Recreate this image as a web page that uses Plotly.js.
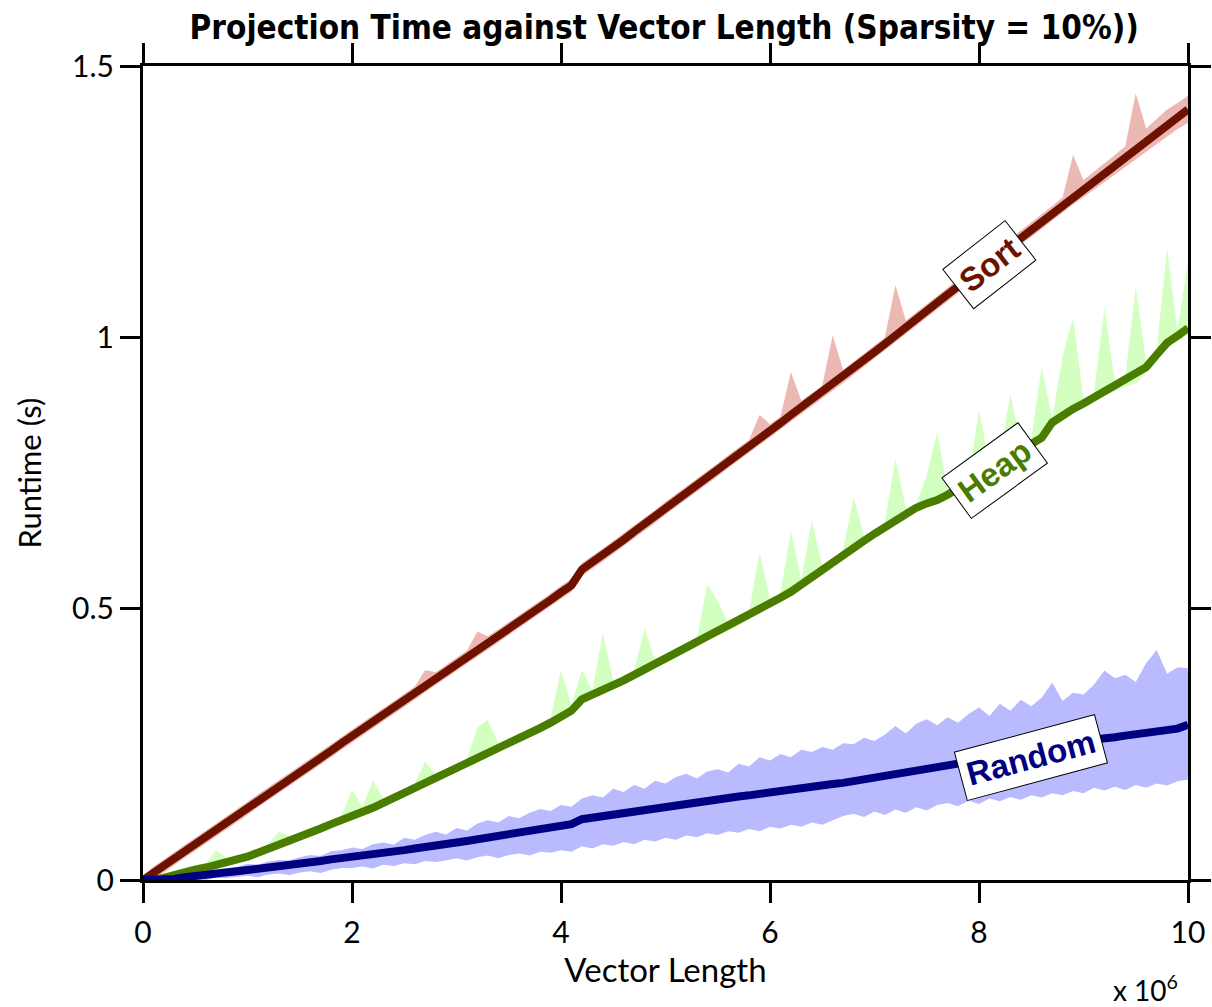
<!DOCTYPE html>
<html>
<head>
<meta charset="utf-8">
<script src="https://cdn.plot.ly/plotly-3.0.1.min.js"></script>
<style>html,body{margin:0;padding:0;background:#fff;}#chart{width:1212px;height:1007px;}</style>
</head>
<body>
<div id="chart"></div>
<script>
// Vector length (x 10^6)
const vectorLength = [
0.0,0.1,0.2,0.3,0.4,0.5,0.6,0.7,0.8,0.9,
1.0,1.1,1.2,1.3,1.4,1.5,1.6,1.7,1.8,1.9,
2.0,2.1,2.2,2.3,2.4,2.5,2.6,2.7,2.8,2.9,
3.0,3.1,3.2,3.3,3.4,3.5,3.6,3.7,3.8,3.9,
4.0,4.1,4.2,4.3,4.4,4.5,4.6,4.7,4.8,4.9,
5.0,5.1,5.2,5.3,5.4,5.5,5.6,5.7,5.8,5.9,
6.0,6.1,6.2,6.3,6.4,6.5,6.6,6.7,6.8,6.9,
7.0,7.1,7.2,7.3,7.4,7.5,7.6,7.7,7.8,7.9,
8.0,8.1,8.2,8.3,8.4,8.5,8.6,8.7,8.8,8.9,
9.0,9.1,9.2,9.3,9.4,9.5,9.6,9.7,9.8,9.9,
10.0];

// Sort: mean runtime, upper and lower envelope (s)
const sortMean = [
0.000,0.013,0.026,0.040,0.053,0.066,0.079,0.093,0.106,0.119,
0.132,0.146,0.159,0.172,0.185,0.199,0.212,0.225,0.238,0.252,
0.265,0.278,0.291,0.305,0.318,0.331,0.344,0.358,0.371,0.384,
0.397,0.411,0.424,0.437,0.450,0.463,0.477,0.490,0.503,0.516,
0.530,0.543,0.572,0.585,0.599,0.613,0.627,0.642,0.656,0.670,
0.685,0.699,0.713,0.728,0.742,0.756,0.771,0.785,0.799,0.814,
0.828,0.842,0.857,0.871,0.885,0.899,0.914,0.928,0.943,0.958,
0.973,0.988,1.004,1.019,1.034,1.049,1.064,1.079,1.094,1.109,
1.124,1.139,1.154,1.169,1.184,1.199,1.214,1.229,1.244,1.259,
1.274,1.289,1.304,1.319,1.334,1.349,1.364,1.379,1.394,1.408,
1.420];
const sortUpper = [
0.008,0.025,0.038,0.052,0.065,0.078,0.091,0.105,0.118,0.131,
0.144,0.158,0.171,0.184,0.197,0.211,0.224,0.237,0.250,0.264,
0.277,0.290,0.303,0.317,0.330,0.343,0.356,0.387,0.383,0.396,
0.409,0.423,0.458,0.449,0.462,0.475,0.489,0.502,0.515,0.528,
0.542,0.555,0.584,0.597,0.611,0.625,0.639,0.654,0.668,0.682,
0.697,0.711,0.725,0.740,0.754,0.768,0.783,0.797,0.811,0.857,
0.840,0.854,0.936,0.883,0.897,0.911,1.004,0.940,0.955,0.970,
0.985,1.000,1.096,1.031,1.046,1.061,1.076,1.091,1.106,1.121,
1.136,1.152,1.167,1.182,1.197,1.212,1.227,1.242,1.258,1.336,
1.290,1.305,1.320,1.336,1.352,1.450,1.385,1.402,1.420,1.432,
1.445];
const sortLower = [
0.000,0.001,0.014,0.028,0.041,0.054,0.067,0.081,0.094,0.107,
0.120,0.134,0.147,0.160,0.173,0.187,0.200,0.213,0.226,0.240,
0.253,0.266,0.279,0.293,0.306,0.319,0.332,0.346,0.359,0.372,
0.385,0.399,0.412,0.425,0.438,0.451,0.465,0.478,0.491,0.504,
0.518,0.531,0.560,0.573,0.587,0.601,0.615,0.630,0.644,0.658,
0.673,0.687,0.701,0.716,0.730,0.744,0.759,0.773,0.787,0.802,
0.816,0.830,0.845,0.859,0.873,0.887,0.902,0.916,0.931,0.946,
0.961,0.976,0.992,1.007,1.022,1.037,1.052,1.067,1.082,1.097,
1.112,1.127,1.142,1.157,1.172,1.185,1.200,1.215,1.230,1.245,
1.258,1.272,1.287,1.300,1.314,1.328,1.342,1.356,1.370,1.384,
1.395];

// Heap
const heapMean = [
0.000,0.000,0.004,0.010,0.015,0.019,0.023,0.027,0.032,0.038,
0.043,0.050,0.058,0.065,0.072,0.079,0.087,0.095,0.103,0.110,
0.117,0.125,0.133,0.142,0.151,0.160,0.169,0.178,0.187,0.196,
0.205,0.214,0.224,0.234,0.244,0.253,0.262,0.271,0.280,0.290,
0.300,0.312,0.333,0.341,0.350,0.359,0.368,0.378,0.388,0.398,
0.407,0.416,0.426,0.436,0.449,0.457,0.466,0.476,0.487,0.500,
0.510,0.520,0.531,0.545,0.556,0.569,0.583,0.600,0.612,0.625,
0.638,0.651,0.664,0.676,0.686,0.694,0.700,0.710,0.722,0.734,
0.746,0.758,0.770,0.782,0.794,0.805,0.815,0.843,0.857,0.868,
0.878,0.889,0.900,0.910,0.920,0.932,0.945,0.968,0.990,1.003,
1.017];
const heapUpper = [
0.002,0.004,0.012,0.018,0.023,0.027,0.031,0.055,0.040,0.046,
0.051,0.058,0.066,0.089,0.080,0.087,0.095,0.103,0.111,0.118,
0.166,0.135,0.184,0.150,0.159,0.168,0.177,0.218,0.195,0.204,
0.213,0.222,0.282,0.295,0.252,0.261,0.270,0.279,0.288,0.298,
0.387,0.322,0.387,0.349,0.455,0.367,0.376,0.386,0.464,0.406,
0.415,0.424,0.434,0.444,0.545,0.513,0.474,0.484,0.495,0.604,
0.518,0.528,0.643,0.553,0.663,0.577,0.591,0.608,0.706,0.633,
0.646,0.659,0.777,0.684,0.694,0.746,0.826,0.718,0.730,0.742,
0.866,0.766,0.778,0.897,0.802,0.813,0.946,0.851,0.965,1.036,
0.886,0.897,1.054,0.918,0.928,1.093,0.953,0.976,1.164,1.011,
1.142];
const heapLower = [
0.000,0.000,0.000,0.003,0.008,0.012,0.016,0.020,0.025,0.031,
0.036,0.043,0.051,0.058,0.065,0.072,0.080,0.088,0.096,0.103,
0.110,0.118,0.126,0.135,0.144,0.153,0.162,0.171,0.180,0.189,
0.198,0.207,0.217,0.227,0.237,0.246,0.255,0.264,0.273,0.283,
0.293,0.305,0.326,0.334,0.343,0.352,0.361,0.371,0.381,0.391,
0.400,0.409,0.419,0.429,0.442,0.450,0.459,0.469,0.480,0.493,
0.503,0.513,0.524,0.538,0.549,0.562,0.576,0.593,0.605,0.618,
0.631,0.644,0.657,0.669,0.679,0.687,0.693,0.703,0.715,0.727,
0.739,0.751,0.763,0.775,0.787,0.798,0.808,0.836,0.850,0.861,
0.871,0.882,0.893,0.900,0.910,0.915,0.936,0.958,0.980,0.993,
1.005];

// Random
const randomMean = [
0.000,0.000,0.000,0.002,0.005,0.008,0.010,0.012,0.014,0.016,
0.018,0.021,0.023,0.025,0.028,0.030,0.033,0.035,0.038,0.040,
0.043,0.045,0.048,0.050,0.052,0.055,0.058,0.060,0.063,0.066,
0.069,0.072,0.075,0.078,0.081,0.084,0.087,0.090,0.093,0.096,
0.099,0.103,0.112,0.115,0.118,0.121,0.124,0.127,0.130,0.133,
0.136,0.139,0.141,0.144,0.146,0.149,0.151,0.154,0.156,0.159,
0.162,0.165,0.168,0.170,0.172,0.175,0.177,0.179,0.182,0.185,
0.188,0.193,0.196,0.198,0.202,0.205,0.208,0.211,0.214,0.217,
0.220,0.224,0.228,0.232,0.236,0.240,0.244,0.248,0.251,0.254,
0.257,0.259,0.260,0.263,0.266,0.268,0.272,0.274,0.276,0.279,
0.286];
const randomUpper = [
0.000,0.003,0.006,0.010,0.012,0.016,0.015,0.020,0.022,0.024,
0.030,0.028,0.034,0.037,0.036,0.042,0.046,0.044,0.053,0.055,
0.060,0.057,0.066,0.069,0.065,0.078,0.074,0.083,0.089,0.084,
0.096,0.091,0.104,0.110,0.106,0.118,0.114,0.124,0.131,0.127,
0.138,0.135,0.150,0.156,0.152,0.168,0.162,0.175,0.168,0.183,
0.178,0.190,0.196,0.187,0.200,0.204,0.198,0.214,0.209,0.226,
0.220,0.232,0.226,0.240,0.236,0.245,0.240,0.252,0.250,0.262,
0.256,0.268,0.284,0.270,0.288,0.296,0.285,0.300,0.290,0.306,
0.318,0.302,0.325,0.312,0.332,0.320,0.336,0.364,0.330,0.345,
0.342,0.360,0.386,0.372,0.378,0.365,0.400,0.424,0.380,0.392,
0.390];
const randomLower = [
0.000,0.000,0.000,0.000,0.000,0.002,0.000,0.004,0.003,0.006,
0.008,0.005,0.010,0.012,0.009,0.014,0.016,0.013,0.019,0.022,
0.022,0.025,0.021,0.028,0.026,0.031,0.029,0.035,0.033,0.036,
0.040,0.036,0.042,0.045,0.040,0.046,0.049,0.045,0.052,0.050,
0.055,0.052,0.062,0.058,0.066,0.063,0.070,0.066,0.074,0.071,
0.078,0.074,0.082,0.079,0.086,0.083,0.090,0.087,0.094,0.090,
0.098,0.095,0.102,0.098,0.106,0.102,0.110,0.118,0.122,0.116,
0.126,0.120,0.130,0.124,0.134,0.128,0.138,0.142,0.136,0.146,
0.140,0.150,0.145,0.153,0.148,0.156,0.152,0.160,0.156,0.164,
0.160,0.170,0.165,0.172,0.166,0.175,0.170,0.178,0.174,0.182,
0.185];

const xTicks = [0, 2, 4, 6, 8, 10];
const yTicks = [0, 0.5, 1, 1.5];
const yTickText = ['0', '0.5', '1', '1.5'];

const C = {
  sortLine: '#6e1200', sortBand: '#ecb8b4',
  heapLine: '#4a7c00', heapBand: '#d3ffc0',
  randLine: '#000080', randBand: '#babaff'
};

function band(lower, upper, color) {
  return [
    {x: vectorLength, y: lower, type: 'scatter', mode: 'lines', line: {width: 0, color: color}, hoverinfo: 'skip', showlegend: false},
    {x: vectorLength, y: upper, type: 'scatter', mode: 'lines', line: {width: 0, color: color}, fill: 'tonexty', fillcolor: color, hoverinfo: 'skip', showlegend: false}
  ];
}
function meanLine(y, color, name) {
  return {x: vectorLength, y: y, type: 'scatter', mode: 'lines', name: name, line: {width: 8, color: color}, showlegend: false};
}

const data = [].concat(
  band(sortLower, sortUpper, C.sortBand),
  band(heapLower, heapUpper, C.heapBand),
  band(randomLower, randomUpper, C.randBand),
  [meanLine(sortMean, C.sortLine, 'Sort'),
   meanLine(heapMean, C.heapLine, 'Heap'),
   meanLine(randomMean, C.randLine, 'Random')]
);

const tickFont = {family: 'Lato, "Noto Sans", sans-serif', size: 30, color: '#000'};
const labelFont = {family: '"Liberation Sans", Arial, sans-serif', size: 33, weight: 'bold'};

const layout = {
  width: 1212, height: 1007,
  margin: {l: 143, r: 24, t: 66, b: 127},
  paper_bgcolor: '#fff', plot_bgcolor: '#fff',
  showlegend: false,
  font: tickFont,
  title: {
    text: '<b>Projection Time against Vector Length (Sparsity = 10%))</b>',
    font: {family: '"DejaVu Sans Condensed", "Liberation Sans Narrow", sans-serif', size: 33, color: '#000'},
    x: 0.548, xanchor: 'center', y: 0.973, yanchor: 'middle'
  },
  xaxis: {
    range: [0, 10], tickvals: xTicks, ticks: 'outside', ticklen: 20, tickwidth: 3, tickcolor: '#000',
    showline: true, linewidth: 3, linecolor: '#000', mirror: 'ticks', showgrid: false, zeroline: false,
    tickfont: tickFont, ticklabelstandoff: 4,
    title: {text: 'Vector Length', font: {family: 'Lato, "Noto Sans", sans-serif', size: 33, color: '#000'}, standoff: 4}
  },
  yaxis: {
    range: [0, 1.5], tickvals: yTicks, ticktext: yTickText, ticks: 'outside', ticklen: 20, tickwidth: 3, tickcolor: '#000',
    showline: true, linewidth: 3, linecolor: '#000', mirror: 'ticks', showgrid: false, zeroline: false,
    tickfont: tickFont,
    title: {text: 'Runtime (s)', font: {family: 'Lato, "Noto Sans", sans-serif', size: 31, color: '#000'}, standoff: 22}
  },
  annotations: [
    {x: 8.1, y: 1.135, xref: 'x', yref: 'y', text: 'Sort', showarrow: false, textangle: -38,
     font: Object.assign({}, labelFont, {color: C.sortLine}), bgcolor: '#fff', bordercolor: '#000', borderwidth: 1, borderpad: 6},
    {x: 8.15, y: 0.755, xref: 'x', yref: 'y', text: 'Heap', showarrow: false, textangle: -36,
     font: Object.assign({}, labelFont, {color: C.heapLine}), bgcolor: '#fff', bordercolor: '#000', borderwidth: 1, borderpad: 6},
    {x: 8.5, y: 0.225, xref: 'x', yref: 'y', text: 'Random', showarrow: false, textangle: -15,
     font: Object.assign({}, labelFont, {color: C.randLine}), bgcolor: '#fff', bordercolor: '#000', borderwidth: 1, borderpad: 6},
    {x: 1, y: 0, xref: 'paper', yref: 'paper', xanchor: 'right', yanchor: 'top', xshift: -8, yshift: -88,
     text: 'x 10<sup>6</sup>', showarrow: false, font: {family: 'Lato, "Noto Sans", sans-serif', size: 28, color: '#000'}}
  ]
};

Plotly.newPlot('chart', data, layout, {displayModeBar: false, staticPlot: true});
</script>
</body>
</html>
